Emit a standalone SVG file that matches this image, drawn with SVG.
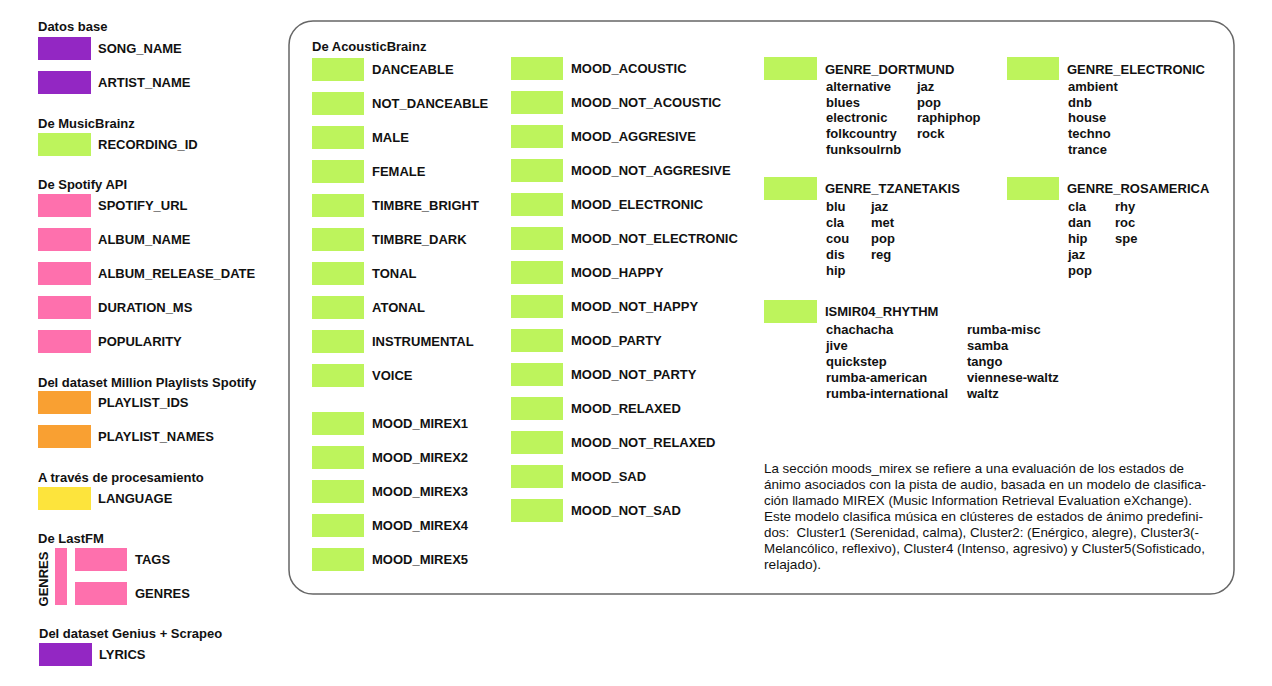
<svg xmlns="http://www.w3.org/2000/svg" width="1272" height="686" viewBox="0 0 1272 686">
<style>
text{font-family:"Liberation Sans",Arial,sans-serif;fill:#111}
.t{font-size:13px;font-weight:bold}
.l{font-size:13px;font-weight:bold}
.i{font-size:13px;font-weight:bold}
.p{font-size:13px}
.pu{fill:#9327c3}
.gr{fill:#bdf45c}
.pk{fill:#fe70ad}
.or{fill:#f9a032}
.ye{fill:#fde43c}
</style>
<rect width="1272" height="686" fill="#fff"/>
<rect x="289" y="21" width="945" height="573" rx="24" fill="#fff" stroke="#666" stroke-width="1.5"/>

<g id="left">
<text class="t" x="38" y="31">Datos base</text>
<g id="song_name"><rect class="pu" x="38" y="37" width="53" height="23"/><text class="l" x="98" y="53">SONG_NAME</text></g>
<g id="artist_name"><rect class="pu" x="38" y="71" width="53" height="23"/><text class="l" x="98" y="87">ARTIST_NAME</text></g>
<text class="t" x="38" y="128">De MusicBrainz</text>
<g id="recording_id"><rect class="gr" x="38" y="133" width="53" height="23"/><text class="l" x="98" y="149">RECORDING_ID</text></g>
<text class="t" x="38" y="189">De Spotify API</text>
<g id="spotify_url"><rect class="pk" x="38" y="194" width="53" height="23"/><text class="l" x="98" y="210">SPOTIFY_URL</text></g>
<g id="album_name"><rect class="pk" x="38" y="228" width="53" height="23"/><text class="l" x="98" y="244">ALBUM_NAME</text></g>
<g id="album_release_date"><rect class="pk" x="38" y="262" width="53" height="23"/><text class="l" x="98" y="278">ALBUM_RELEASE_DATE</text></g>
<g id="duration_ms"><rect class="pk" x="38" y="296" width="53" height="23"/><text class="l" x="98" y="312">DURATION_MS</text></g>
<g id="popularity"><rect class="pk" x="38" y="330" width="53" height="23"/><text class="l" x="98" y="346">POPULARITY</text></g>
<text class="t" x="38" y="387">Del dataset Million Playlists Spotify</text>
<g id="playlist_ids"><rect class="or" x="38" y="391" width="53" height="23"/><text class="l" x="98" y="407">PLAYLIST_IDS</text></g>
<g id="playlist_names"><rect class="or" x="38" y="425" width="53" height="23"/><text class="l" x="98" y="441">PLAYLIST_NAMES</text></g>
<text class="t" x="38" y="482">A través de procesamiento</text>
<g id="language"><rect class="ye" x="38" y="487" width="53" height="23"/><text class="l" x="98" y="503">LANGUAGE</text></g>
<text class="t" x="38" y="543">De LastFM</text>
<g id="lastfm_genres_bar"><rect class="pk" x="55" y="548" width="12" height="57"/><text class="t" transform="translate(48,579) rotate(-90)" text-anchor="middle">GENRES</text></g>
<g id="tags"><rect class="pk" x="75" y="548" width="52" height="23"/><text class="l" x="135" y="564">TAGS</text></g>
<g id="genres"><rect class="pk" x="75" y="582" width="52" height="23"/><text class="l" x="135" y="598">GENRES</text></g>
<text class="t" x="39" y="638">Del dataset Genius + Scrapeo</text>
<g id="lyrics"><rect class="pu" x="39" y="643" width="53" height="23"/><text class="l" x="99" y="659">LYRICS</text></g>
</g>

<g id="acousticbrainz">
<text class="t" x="312" y="51">De AcousticBrainz</text>
<g id="danceable"><rect class="gr" x="312" y="58" width="52" height="23"/><text class="l" x="372" y="74">DANCEABLE</text></g>
<g id="not_danceable"><rect class="gr" x="312" y="92" width="52" height="23"/><text class="l" x="372" y="108">NOT_DANCEABLE</text></g>
<g id="male"><rect class="gr" x="312" y="126" width="52" height="23"/><text class="l" x="372" y="142">MALE</text></g>
<g id="female"><rect class="gr" x="312" y="160" width="52" height="23"/><text class="l" x="372" y="176">FEMALE</text></g>
<g id="timbre_bright"><rect class="gr" x="312" y="194" width="52" height="23"/><text class="l" x="372" y="210">TIMBRE_BRIGHT</text></g>
<g id="timbre_dark"><rect class="gr" x="312" y="228" width="52" height="23"/><text class="l" x="372" y="244">TIMBRE_DARK</text></g>
<g id="tonal"><rect class="gr" x="312" y="262" width="52" height="23"/><text class="l" x="372" y="278">TONAL</text></g>
<g id="atonal"><rect class="gr" x="312" y="296" width="52" height="23"/><text class="l" x="372" y="312">ATONAL</text></g>
<g id="instrumental"><rect class="gr" x="312" y="330" width="52" height="23"/><text class="l" x="372" y="346">INSTRUMENTAL</text></g>
<g id="voice"><rect class="gr" x="312" y="364" width="52" height="23"/><text class="l" x="372" y="380">VOICE</text></g>
<g id="mood_mirex1"><rect class="gr" x="312" y="412" width="52" height="23"/><text class="l" x="372" y="428">MOOD_MIREX1</text></g>
<g id="mood_mirex2"><rect class="gr" x="312" y="446" width="52" height="23"/><text class="l" x="372" y="462">MOOD_MIREX2</text></g>
<g id="mood_mirex3"><rect class="gr" x="312" y="480" width="52" height="23"/><text class="l" x="372" y="496">MOOD_MIREX3</text></g>
<g id="mood_mirex4"><rect class="gr" x="312" y="514" width="52" height="23"/><text class="l" x="372" y="530">MOOD_MIREX4</text></g>
<g id="mood_mirex5"><rect class="gr" x="312" y="548" width="52" height="23"/><text class="l" x="372" y="564">MOOD_MIREX5</text></g>

<g id="mood_acoustic"><rect class="gr" x="511" y="57" width="52" height="23"/><text class="l" x="571" y="73">MOOD_ACOUSTIC</text></g>
<g id="mood_not_acoustic"><rect class="gr" x="511" y="91" width="52" height="23"/><text class="l" x="571" y="107">MOOD_NOT_ACOUSTIC</text></g>
<g id="mood_aggresive"><rect class="gr" x="511" y="125" width="52" height="23"/><text class="l" x="571" y="141">MOOD_AGGRESIVE</text></g>
<g id="mood_not_aggresive"><rect class="gr" x="511" y="159" width="52" height="23"/><text class="l" x="571" y="175">MOOD_NOT_AGGRESIVE</text></g>
<g id="mood_electronic"><rect class="gr" x="511" y="193" width="52" height="23"/><text class="l" x="571" y="209">MOOD_ELECTRONIC</text></g>
<g id="mood_not_electronic"><rect class="gr" x="511" y="227" width="52" height="23"/><text class="l" x="571" y="243">MOOD_NOT_ELECTRONIC</text></g>
<g id="mood_happy"><rect class="gr" x="511" y="261" width="52" height="23"/><text class="l" x="571" y="277">MOOD_HAPPY</text></g>
<g id="mood_not_happy"><rect class="gr" x="511" y="295" width="52" height="23"/><text class="l" x="571" y="311">MOOD_NOT_HAPPY</text></g>
<g id="mood_party"><rect class="gr" x="511" y="329" width="52" height="23"/><text class="l" x="571" y="345">MOOD_PARTY</text></g>
<g id="mood_not_party"><rect class="gr" x="511" y="363" width="52" height="23"/><text class="l" x="571" y="379">MOOD_NOT_PARTY</text></g>
<g id="mood_relaxed"><rect class="gr" x="511" y="397" width="52" height="23"/><text class="l" x="571" y="413">MOOD_RELAXED</text></g>
<g id="mood_not_relaxed"><rect class="gr" x="511" y="431" width="52" height="23"/><text class="l" x="571" y="447">MOOD_NOT_RELAXED</text></g>
<g id="mood_sad"><rect class="gr" x="511" y="465" width="52" height="23"/><text class="l" x="571" y="481">MOOD_SAD</text></g>
<g id="mood_not_sad"><rect class="gr" x="511" y="499" width="52" height="23"/><text class="l" x="571" y="515">MOOD_NOT_SAD</text></g>

<g id="genre_dortmund"><rect class="gr" x="764" y="57" width="53" height="23"/><text class="l" x="825" y="74">GENRE_DORTMUND</text>
<text class="i" x="826" y="91">alternative</text><text class="i" x="826" y="107">blues</text><text class="i" x="826" y="122">electronic</text><text class="i" x="826" y="138">folkcountry</text><text class="i" x="826" y="154">funksoulrnb</text>
<text class="i" x="917" y="91">jaz</text><text class="i" x="917" y="107">pop</text><text class="i" x="917" y="122">raphiphop</text><text class="i" x="917" y="138">rock</text></g>
<g id="genre_electronic"><rect class="gr" x="1007" y="57" width="52" height="23"/><text class="l" x="1067" y="74">GENRE_ELECTRONIC</text>
<text class="i" x="1068" y="91">ambient</text><text class="i" x="1068" y="107">dnb</text><text class="i" x="1068" y="122">house</text><text class="i" x="1068" y="138">techno</text><text class="i" x="1068" y="154">trance</text></g>
<g id="genre_tzanetakis"><rect class="gr" x="764" y="177" width="53" height="23"/><text class="l" x="825" y="193">GENRE_TZANETAKIS</text>
<text class="i" x="826" y="211">blu</text><text class="i" x="826" y="227">cla</text><text class="i" x="826" y="243">cou</text><text class="i" x="826" y="259">dis</text><text class="i" x="826" y="275">hip</text>
<text class="i" x="871" y="211">jaz</text><text class="i" x="871" y="227">met</text><text class="i" x="871" y="243">pop</text><text class="i" x="871" y="259">reg</text></g>
<g id="genre_rosamerica"><rect class="gr" x="1007" y="177" width="52" height="23"/><text class="l" x="1067" y="193">GENRE_ROSAMERICA</text>
<text class="i" x="1068" y="211">cla</text><text class="i" x="1068" y="227">dan</text><text class="i" x="1068" y="243">hip</text><text class="i" x="1068" y="259">jaz</text><text class="i" x="1068" y="275">pop</text>
<text class="i" x="1115" y="211">rhy</text><text class="i" x="1115" y="227">roc</text><text class="i" x="1115" y="243">spe</text></g>
<g id="ismir04_rhythm"><rect class="gr" x="764" y="300" width="53" height="23"/><text class="l" x="825" y="316">ISMIR04_RHYTHM</text>
<text class="i" x="826" y="334">chachacha</text><text class="i" x="826" y="350">jive</text><text class="i" x="826" y="366">quickstep</text><text class="i" x="826" y="382">rumba-american</text><text class="i" x="826" y="398">rumba-international</text>
<text class="i" x="967" y="334">rumba-misc</text><text class="i" x="967" y="350">samba</text><text class="i" x="967" y="366">tango</text><text class="i" x="967" y="382">viennese-waltz</text><text class="i" x="967" y="398">waltz</text></g>
</g>

<g id="note">
<text class="p" x="764" y="473" textLength="420" lengthAdjust="spacingAndGlyphs">La sección moods_mirex se refiere a una evaluación de los estados de</text>
<text class="p" x="764" y="489" textLength="442" lengthAdjust="spacingAndGlyphs">ánimo asociados con la pista de audio, basada en un modelo de clasifica-</text>
<text class="p" x="764" y="505" textLength="428" lengthAdjust="spacingAndGlyphs">ción llamado MIREX (Music Information Retrieval Evaluation eXchange).</text>
<text class="p" x="764" y="521" textLength="439" lengthAdjust="spacingAndGlyphs">Este modelo clasifica música en clústeres de estados de ánimo predefini-</text>
<text class="p" x="764" y="537" textLength="435" lengthAdjust="spacingAndGlyphs" xml:space="preserve">dos:  Cluster1 (Serenidad, calma), Cluster2: (Enérgico, alegre), Cluster3(-</text>
<text class="p" x="764" y="553" textLength="441" lengthAdjust="spacingAndGlyphs">Melancólico, reflexivo), Cluster4 (Intenso, agresivo) y Cluster5(Sofisticado,</text>
<text class="p" x="764" y="569" textLength="57" lengthAdjust="spacingAndGlyphs">relajado).</text>
</g>
</svg>
